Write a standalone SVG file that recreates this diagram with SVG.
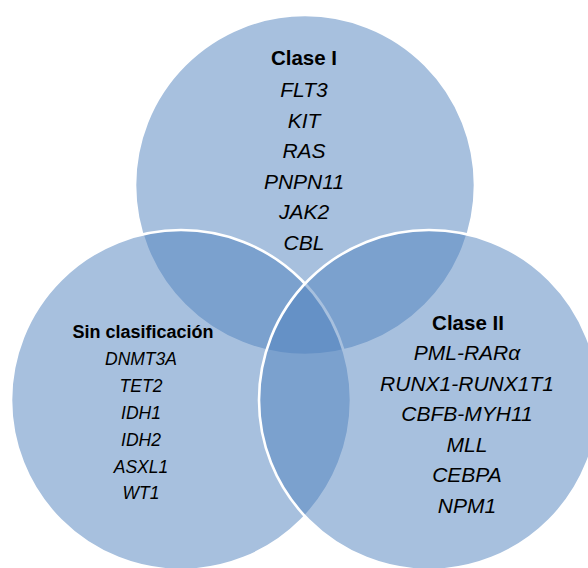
<svg xmlns="http://www.w3.org/2000/svg" width="588" height="568" viewBox="0 0 588 568">
<style>
.c{fill:#4F81BD;fill-opacity:0.5;stroke:#FFFFFF;stroke-width:2.6}
text{font-family:"Liberation Sans",Arial,sans-serif;fill:#000;text-anchor:middle}
.h{font-weight:bold;font-size:20.5px}
.i{font-style:italic;font-size:21px}
.hs{font-weight:bold;font-size:18px}
.is{font-style:italic;font-size:17.5px}
</style>
<rect width="588" height="568" fill="#FFFFFF"/>
<g id="circles">
<circle id="c-top" class="c" cx="305" cy="185" r="170"/>
<circle id="c-left" class="c" cx="181" cy="400" r="170"/>
<circle id="c-right" class="c" cx="429" cy="400" r="170"/>
</g>
<g id="clase1">
<text class="h" x="304" y="65">Clase I</text>
<text class="i" x="304" y="97">FLT3</text>
<text class="i" x="304" y="128">KIT</text>
<text class="i" x="304" y="158">RAS</text>
<text class="i" x="304" y="189">PNPN11</text>
<text class="i" x="304" y="219">JAK2</text>
<text class="i" x="304" y="250">CBL</text>
</g>
<g id="sinclasif">
<text class="hs" x="143" y="338">Sin clasificación</text>
<text class="is" x="141" y="365">DNMT3A</text>
<text class="is" x="141" y="392">TET2</text>
<text class="is" x="141" y="419">IDH1</text>
<text class="is" x="141" y="446">IDH2</text>
<text class="is" x="141" y="473">ASXL1</text>
<text class="is" x="141" y="499">WT1</text>
</g>
<g id="clase2">
<text class="h" x="468" y="330">Clase II</text>
<text class="i" x="467" y="360">PML-RARα</text>
<text class="i" x="467" y="391">RUNX1-RUNX1T1</text>
<text class="i" x="467" y="421">CBFB-MYH11</text>
<text class="i" x="467" y="452">MLL</text>
<text class="i" x="467" y="482">CEBPA</text>
<text class="i" x="467" y="513">NPM1</text>
</g>
</svg>
